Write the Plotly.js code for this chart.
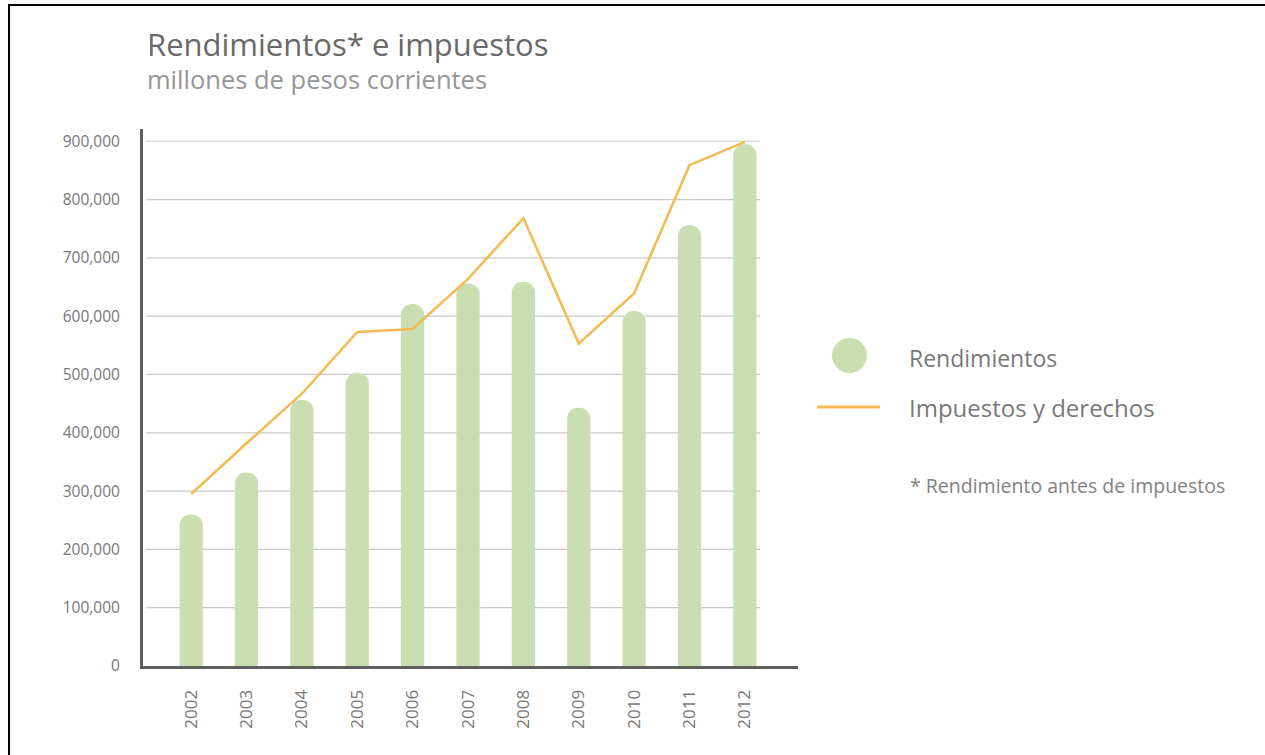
<!DOCTYPE html>
<html>
<head>
<meta charset="utf-8">
<script src="https://cdn.plot.ly/plotly-3.0.1.min.js"></script>
<style>
  html, body { margin: 0; padding: 0; background: #fff; }
  #wrap { position: relative; width: 1265px; height: 755px; overflow: hidden; }
  #chart { width: 1265px; height: 755px; }
  .frame-top { position: absolute; left: 8px; top: 4px; width: 1257px; height: 2px; background: #000; }
  .frame-left { position: absolute; left: 8px; top: 4px; width: 2px; height: 751px; background: #000; }
</style>
</head>
<body>
<div id="wrap">
  <div id="chart"></div>
  <div class="frame-top"></div>
  <div class="frame-left"></div>
</div>
<script>
// ---- data ----
const years = ['2002','2003','2004','2005','2006','2007','2008','2009','2010','2011','2012'];
const rendimientos = [260000, 332000, 456000, 503000, 621000, 656000, 659000, 443000, 609000, 756000, 895000];
const impuestos = [295000, 382000, 467000, 573000, 578000, 664000, 768000, 553000, 639000, 859000, 899000];
const yTickVals = [0, 100000, 200000, 300000, 400000, 500000, 600000, 700000, 800000, 900000];
const yTickText = ['0','100,000','200,000','300,000','400,000','500,000','600,000','700,000','800,000','900,000'];
const titleText = 'Rendimientos* e impuestos';
const subtitleText = 'millones de pesos corrientes';
const legendBar = 'Rendimientos';
const legendLine = 'Impuestos y derechos';
const footnote = '* Rendimiento antes de impuestos';

// ---- layout geometry (pixels) ----
const W = 1265, H = 755;
const plotL = 143, plotR = 798, plotT = 129, plotB = 666;
const pw = plotR - plotL, ph = plotB - plotT;
const px = x => (x - plotL) / pw;
const py = y => (plotB - y) / ph;

const green = 'rgb(201,222,177)';
const orange = 'rgb(244,186,84)';
const font = 'Open Sans, sans-serif';

const traces = [
  {
    type: 'bar', x: years, y: rendimientos, name: legendBar,
    width: 0.42,
    marker: { color: green, cornerradius: '50%' },
    hoverinfo: 'x+y', showlegend: false
  },
  {
    type: 'scatter', mode: 'lines', x: years, y: impuestos, name: legendLine,
    line: { color: orange, width: 2.5 },
    hoverinfo: 'x+y', showlegend: false
  }
];

const gridEnd = px(760);
const shapes = yTickVals.filter(v => v > 0).map(v => ({
  type: 'line', xref: 'paper', yref: 'y', x0: 0.005, x1: gridEnd, y0: v, y1: v,
  line: { color: 'rgb(200,200,200)', width: 1.2 }, layer: 'below'
}));
// legend symbols
shapes.push({
  type: 'circle', xref: 'paper', yref: 'paper',
  x0: px(832), x1: px(867), y0: py(373), y1: py(338),
  fillcolor: green, line: { width: 0 }
});
shapes.push({
  type: 'line', xref: 'paper', yref: 'paper',
  x0: px(817), x1: px(880), y0: py(407), y1: py(407),
  line: { color: orange, width: 3 }
});

const annotations = [
  { text: titleText, xref: 'paper', yref: 'paper', x: px(145), y: py(44), xanchor: 'left', yanchor: 'middle',
    showarrow: false, font: { family: font, size: 31, color: 'rgb(105,105,105)' } },
  { text: subtitleText, xref: 'paper', yref: 'paper', x: px(145), y: py(79), xanchor: 'left', yanchor: 'middle',
    showarrow: false, font: { family: font, size: 25.5, color: 'rgb(150,150,150)' } },
  { text: legendBar, xref: 'paper', yref: 'paper', x: px(907), y: py(358), xanchor: 'left', yanchor: 'middle',
    showarrow: false, font: { family: font, size: 23, color: 'rgb(120,120,120)' } },
  { text: legendLine, xref: 'paper', yref: 'paper', x: px(907), y: py(407), xanchor: 'left', yanchor: 'middle',
    showarrow: false, font: { family: font, size: 24, color: 'rgb(120,120,120)' } },
  { text: footnote, xref: 'paper', yref: 'paper', x: px(908), y: py(485), xanchor: 'left', yanchor: 'middle',
    showarrow: false, font: { family: font, size: 19.5, color: 'rgb(130,130,130)' } }
];

const layout = {
  width: W, height: H,
  margin: { l: plotL, r: W - plotR, t: plotT, b: H - plotB, pad: 0 },
  paper_bgcolor: '#fff', plot_bgcolor: '#fff',
  showlegend: false,
  xaxis: {
    type: 'category', range: [-0.87, 10.96],
    showgrid: false, zeroline: false,
    showline: true, linecolor: 'rgb(95,95,95)', linewidth: 3,
    ticks: '', tickangle: -90, ticklabelstandoff: 14,
    tickfont: { family: font, size: 17, color: 'rgb(120,120,120)' }
  },
  yaxis: {
    range: [0, 921000], tickvals: yTickVals, ticktext: yTickText,
    showgrid: false, zeroline: false,
    showline: true, linecolor: 'rgb(95,95,95)', linewidth: 3,
    ticks: '', ticklabelstandoff: 17,
    tickfont: { family: font, size: 15.5, color: 'rgb(120,120,120)' }
  },
  shapes: shapes,
  annotations: annotations
};

Plotly.newPlot('chart', traces, layout, { displayModeBar: false, staticPlot: true });
</script>
</body>
</html>
